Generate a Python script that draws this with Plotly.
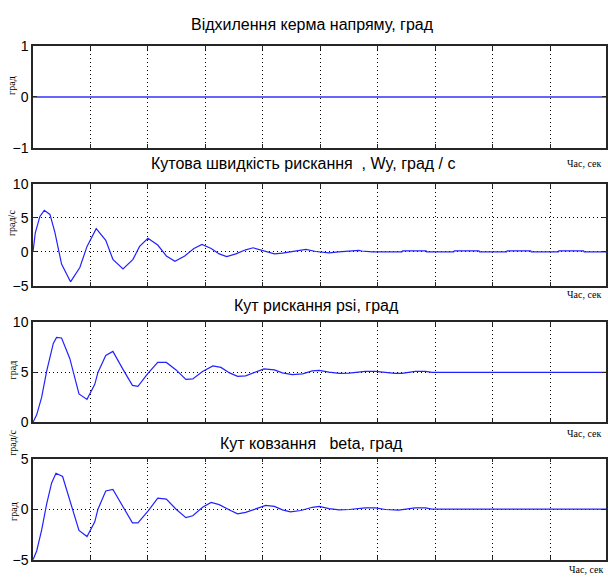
import plotly.graph_objects as go

# ---------------- data ----------------
t1 = [0, 9.97]
v1 = [0, 0]

t2 = [0, 0.04, 0.12, 0.196, 0.295, 0.38, 0.497, 0.653, 0.815, 0.94, 1.10, 1.266, 1.39,
      1.566, 1.74, 1.855, 2.0, 2.17, 2.32, 2.47, 2.64, 2.80, 2.94, 3.10, 3.24, 3.37,
      3.53, 3.70, 3.83, 3.99, 4.2, 4.34, 4.54, 4.75, 4.92, 5.15, 5.32, 5.44, 5.50,
      5.67, 5.72, 5.90, 6.42, 6.43, 6.84, 6.85, 7.32, 7.33, 7.76, 7.77, 8.24, 8.25,
      8.66, 8.67, 9.14, 9.15, 9.58, 9.59, 9.97]
v2 = [0, 2.8, 5.2, 6.1, 5.5, 2.9, -1.8, -4.4, -2.3, 0.8, 3.4, 1.7, -1.1,
      -2.5, -1.1, 0.8, 2.0, 1.0, -0.6, -1.4, -0.6, 0.5, 1.1, 0.5, -0.3, -0.7,
      -0.3, 0.3, 0.6, 0.17, -0.3, -0.2, 0.1, 0.35, 0.05, -0.15, 0.0, 0.05, 0.15,
      0.2, 0.12, 0.0, 0.0, 0.14, 0.14, 0.0, 0.0, 0.14, 0.14, 0.0, 0.0, 0.14,
      0.14, 0.0, 0.0, 0.14, 0.14, 0.0, 0.0]

t3 = [0, 0.064, 0.15, 0.237, 0.353, 0.41, 0.497, 0.64, 0.80, 0.94, 1.075, 1.13, 1.266,
      1.39, 1.566, 1.73, 1.826, 2.0, 2.17, 2.32, 2.49, 2.66, 2.78, 2.95, 3.13, 3.27,
      3.42, 3.56, 3.70, 3.88, 4.02, 4.2, 4.34, 4.51, 4.69, 4.86, 4.98, 5.15, 5.33,
      5.5, 5.78, 5.96, 6.13, 6.3, 6.42, 6.65, 6.83, 6.94, 9.97]
v3 = [0, 0.75, 2.5, 5.1, 7.9, 8.5, 8.45, 6.4, 2.85, 2.3, 3.8, 5.0, 6.7,
      7.1, 5.3, 3.7, 3.6, 4.9, 6.0, 6.0, 5.25, 4.3, 4.35, 5.1, 5.65, 5.5,
      4.95, 4.6, 4.65, 5.03, 5.35, 5.25, 4.95, 4.77, 4.85, 5.15, 5.2, 5.02, 4.9,
      4.93, 5.1, 5.1, 4.97, 4.9, 4.9, 5.1, 5.1, 5.0, 5.0]

t4 = [0, 0.064, 0.15, 0.237, 0.324, 0.4, 0.515, 0.64, 0.80, 0.94, 1.075, 1.13, 1.266,
      1.39, 1.566, 1.73, 1.826, 2.0, 2.17, 2.32, 2.49, 2.66, 2.78, 2.95, 3.1, 3.24,
      3.42, 3.56, 3.70, 3.88, 4.05, 4.2, 4.34, 4.48, 4.66, 4.86, 4.98, 5.15, 5.33,
      5.5, 5.78, 5.96, 6.13, 6.36, 6.65, 6.83, 6.94, 9.97]
v4 = [-5, -4.13, -2.06, 0.5, 2.6, 3.55, 3.23, 1.0, -2.1, -2.7, -1.25, 0.0, 1.8,
      1.95, 0.2, -1.35, -1.35, -0.2, 1.1, 1.0, 0.0, -0.84, -0.65, 0.19, 0.67, 0.45,
      -0.07, -0.45, -0.32, 0.06, 0.38, 0.28, -0.07, -0.26, -0.13, 0.19, 0.28, 0.06, -0.07,
      -0.03, 0.13, 0.13, -0.03, -0.1, 0.13, 0.13, 0.0, 0.0]

titles = ["Відхилення керма напряму, град",
          "Кутова швидкість рискання  , Wy, град / с",
          "Кут рискання psi, град",
          "Кут ковзання   beta, град"]
ylabels = ["град", "град/с", "град", "град"]
yranges = [[-1, 1], [-5, 10], [0, 10], [-5, 5]]
yticks = [[-1, 0, 1], [-5, 0, 5, 10], [0, 5, 10], [-5, 0, 5]]
xlabel = "Час, сек"

# ---------------- layout helpers ----------------
W, H = 608, 585
L, R = 33, 0
PW = W - L - R
panels_px = [(39, 144), (180.7, 285.7), (323.3, 426), (463.3, 567.3)]


def px_x(px):
    return (px - L) / PW


def px_y(py):
    return 1 - py / H


fig = go.Figure()
series = [(t1, v1), (t2, v2), (t3, v3), (t4, v4)]
line_styles = [dict(color="#6666ff", width=2.2),
               dict(color="#2222ff", width=1.2),
               dict(color="#2222ff", width=1.2),
               dict(color="#2222ff", width=1.2)]
for i, (t, v) in enumerate(series):
    n = "" if i == 0 else str(i + 1)
    fig.add_trace(go.Scatter(x=t, y=v, mode="lines", line=line_styles[i],
                             xaxis="x" + n, yaxis="y" + n, showlegend=False,
                             hoverinfo="skip"))

axis_common = dict(showline=True, linecolor="#262626", linewidth=1.5, mirror="ticks",
                   ticks="inside", ticklen=4, tickwidth=1.3, tickcolor="#262626",
                   showgrid=True, gridcolor="#000000", griddash="1px,3px", gridwidth=1,
                   zeroline=False, fixedrange=True)

layout = dict(width=W, height=H, margin=dict(l=L, r=R, t=0, b=0),
              paper_bgcolor="white", plot_bgcolor="white",
              font=dict(family="Liberation Sans, Arial", color="black"))
for i in range(4):
    n = "" if i == 0 else str(i + 1)
    top, bot = panels_px[i]
    layout["xaxis" + n] = dict(axis_common, range=[0, 9.97], dtick=1, tick0=0,
                               showticklabels=False, domain=[0, 1],
                               anchor="y" + n)
    layout["yaxis" + n] = dict(axis_common, range=yranges[i], tickvals=yticks[i],
                               domain=[px_y(bot), px_y(top)], anchor="x" + n,
                               tickfont=dict(size=14, family="Liberation Sans, Arial"))
fig.update_layout(**layout)

title_pos = [(313, 17), (304, 160), (317, 306), (312, 448)]
for (x, y), txt in zip(title_pos, titles):
    fig.add_annotation(text=txt, x=px_x(x), y=px_y(y), xref="paper", yref="paper",
                       showarrow=False, xanchor="center", yanchor="middle",
                       font=dict(size=16, family="Liberation Sans, Arial"))

xlab_pos = [(586, 160), (586, 295), (586, 437), (588, 577)]
for x, y in xlab_pos:
    fig.add_annotation(text=xlabel, x=px_x(x), y=px_y(y), xref="paper", yref="paper",
                       showarrow=False, xanchor="center", yanchor="middle",
                       font=dict(size=10, family="Liberation Serif, Times New Roman"))

ylab_pos = [(12, 80), (12, 221), (12.5, 372), (14, 518)]
for (x, y), txt in zip(ylab_pos, ylabels):
    fig.add_annotation(text=txt, x=px_x(x), y=px_y(y), xref="paper", yref="paper",
                       showarrow=False, xanchor="center", yanchor="middle", textangle=-90,
                       font=dict(size=10, family="Liberation Serif, Times New Roman"))
# stray label near top of last panel
fig.add_annotation(text="град/с", x=px_x(13), y=px_y(447), xref="paper", yref="paper",
                   showarrow=False, xanchor="center", yanchor="middle", textangle=-90,
                   font=dict(size=10, family="Liberation Serif, Times New Roman"))

fig.write_html("out.html")
